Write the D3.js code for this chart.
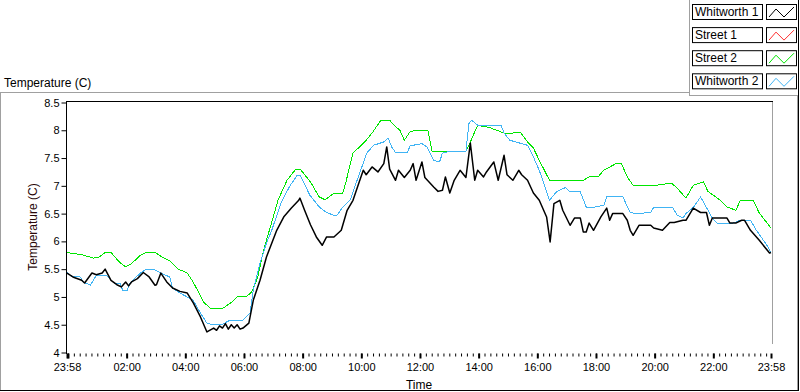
<!DOCTYPE html>
<html>
<head>
<meta charset="utf-8">
<script src="https://cdn.jsdelivr.net/npm/d3@7"></script>
<style>
  body { margin: 0; background: #fff; }
  svg { display: block; font-family: "Liberation Sans", Arial, sans-serif; }
  .tick text { font-size: 11px; fill: #000; }
  .tick line { stroke: #000; }
</style>
</head>
<body>
<div id="chart"></div>
<script>
// hours after 23:58, temperature (C)
var whitworth1 = [[0,5.43],[0.2,5.36],[0.5,5.3],[0.6,5.25],[0.85,5.43],[1.0,5.4],[1.2,5.43],[1.3,5.5],[1.5,5.3],[1.7,5.22],[1.85,5.18],[2.0,5.27],[2.1,5.2],[2.2,5.27],[2.4,5.33],[2.6,5.44],[2.8,5.36],[3.0,5.21],[3.05,5.22],[3.2,5.43],[3.4,5.27],[3.6,5.16],[3.85,5.1],[4.1,5.07],[4.31,4.89],[4.55,4.64],[4.77,4.37],[5.0,4.44],[5.1,4.4],[5.2,4.48],[5.3,4.44],[5.4,4.52],[5.5,4.42],[5.6,4.5],[5.7,4.44],[5.8,4.5],[5.9,4.42],[6.0,4.44],[6.2,4.53],[6.35,4.94],[6.58,5.3],[6.8,5.72],[7.15,6.2],[7.4,6.45],[7.65,6.6],[7.9,6.74],[7.94,6.78],[8.1,6.56],[8.3,6.3],[8.5,6.08],[8.7,5.93],[8.85,6.08],[9.1,6.08],[9.35,6.2],[9.55,6.56],[9.75,6.74],[9.95,7.05],[10.1,7.28],[10.2,7.2],[10.4,7.34],[10.6,7.25],[10.8,7.4],[10.9,7.7],[11.0,7.3],[11.2,7.1],[11.3,7.28],[11.5,7.15],[11.7,7.28],[11.8,7.4],[11.9,7.1],[12.1,7.43],[12.2,7.15],[12.5,6.98],[12.65,6.9],[12.8,6.92],[12.9,7.16],[13.05,6.87],[13.2,7.1],[13.4,7.28],[13.6,7.15],[13.75,7.77],[13.9,7.1],[14.0,7.28],[14.2,7.16],[14.3,7.25],[14.55,7.43],[14.7,7.1],[14.9,7.55],[15.0,7.2],[15.2,7.1],[15.4,7.28],[15.5,7.2],[15.7,7.1],[15.9,6.87],[16.1,6.74],[16.35,6.44],[16.47,5.99],[16.6,6.68],[16.8,6.74],[16.9,6.56],[17.15,6.29],[17.3,6.42],[17.5,6.42],[17.6,6.17],[17.7,6.17],[17.8,6.33],[17.95,6.2],[18.2,6.44],[18.4,6.6],[18.5,6.38],[18.6,6.5],[18.95,6.5],[19.1,6.38],[19.2,6.2],[19.3,6.11],[19.5,6.29],[19.9,6.29],[20.0,6.24],[20.3,6.2],[20.55,6.34],[20.7,6.34],[21.0,6.38],[21.1,6.38],[21.35,6.6],[21.6,6.52],[21.8,6.52],[21.9,6.29],[22.0,6.42],[22.5,6.42],[22.6,6.33],[22.8,6.33],[23.0,6.38],[23.1,6.38],[23.3,6.2],[23.6,6.02],[23.95,5.79],[24,5.8]];

var street1 = [];

var street2 = [[0,5.8],[0.5,5.76],[0.9,5.7],[1.1,5.72],[1.3,5.8],[1.5,5.8],[1.8,5.62],[2.0,5.54],[2.2,5.6],[2.5,5.75],[2.7,5.8],[3.0,5.8],[3.3,5.7],[3.5,5.65],[3.8,5.5],[4.1,5.43],[4.3,5.27],[4.5,5.07],[4.65,4.91],[4.9,4.79],[5.3,4.79],[5.6,4.9],[5.8,5.0],[6.1,5.0],[6.3,5.09],[6.5,5.35],[6.7,5.84],[6.9,6.2],[7.2,6.75],[7.5,7.1],[7.8,7.3],[7.95,7.3],[8.3,7.07],[8.6,6.8],[8.8,6.75],[9.1,6.87],[9.4,6.87],[9.5,7.05],[9.75,7.59],[10.15,7.79],[10.4,7.95],[10.7,8.18],[11.0,8.18],[11.15,8.09],[11.35,8.0],[11.5,7.82],[11.7,7.98],[12.0,8.0],[12.3,8.0],[12.45,7.61],[12.8,7.62],[13.2,7.62],[13.6,7.62],[13.75,7.79],[14.0,8.09],[14.4,8.05],[14.9,7.95],[15.2,7.95],[15.45,7.97],[15.7,7.79],[15.9,7.68],[16.1,7.46],[16.45,7.1],[16.8,7.1],[17.2,7.1],[17.6,7.1],[17.8,7.16],[18.1,7.16],[18.3,7.28],[18.75,7.41],[18.9,7.4],[19.1,7.16],[19.3,7.01],[19.7,7.01],[20.1,7.01],[20.6,7.05],[20.8,6.96],[21.1,6.78],[21.35,7.01],[21.7,7.07],[21.85,6.9],[22.3,6.73],[22.5,6.62],[22.8,6.56],[22.95,6.73],[23.4,6.73],[23.6,6.51],[24,6.24]];

var whitworth2 = [[0,5.44],[0.2,5.36],[0.45,5.36],[0.55,5.27],[0.8,5.21],[1.0,5.39],[1.35,5.39],[1.6,5.25],[1.8,5.25],[1.9,5.12],[2.05,5.12],[2.15,5.25],[2.5,5.43],[2.7,5.5],[2.95,5.5],[3.2,5.43],[3.5,5.36],[3.6,5.16],[3.85,5.07],[4.1,5.0],[4.3,4.94],[4.55,4.71],[4.77,4.53],[4.9,4.51],[5.3,4.51],[5.55,4.58],[6.0,4.58],[6.24,4.71],[6.35,5.12],[6.58,5.61],[6.8,5.97],[6.98,6.2],[7.3,6.7],[7.6,7.0],[7.85,7.19],[7.95,7.19],[8.28,6.83],[8.6,6.62],[8.85,6.52],[9.1,6.47],[9.2,6.47],[9.41,6.62],[9.65,6.74],[9.93,7.16],[10.22,7.59],[10.45,7.73],[10.8,7.79],[10.95,7.86],[11.07,7.7],[11.2,7.6],[11.6,7.6],[11.7,7.72],[12.1,7.76],[12.27,7.7],[12.5,7.46],[12.7,7.43],[12.8,7.59],[13.05,7.62],[13.6,7.62],[13.7,8.12],[13.8,8.18],[14.0,8.09],[14.8,8.09],[14.9,7.95],[15.1,7.82],[15.3,7.79],[15.7,7.73],[15.9,7.52],[16.1,7.28],[16.45,6.74],[16.7,6.9],[17.0,6.97],[17.15,6.89],[17.5,6.89],[17.7,6.62],[17.8,6.6],[18.3,6.65],[18.4,6.8],[18.95,6.8],[19.2,6.52],[19.4,6.5],[19.9,6.52],[20.0,6.61],[20.65,6.61],[20.8,6.47],[21.0,6.42],[21.1,6.5],[21.35,6.61],[21.6,6.8],[21.8,6.61],[22.0,6.42],[22.15,6.33],[22.7,6.33],[22.95,6.38],[23.3,6.38],[23.5,6.2],[23.9,5.9],[24,5.79]];

var seriesNames = ['Whitworth 1', 'Street 1', 'Street 2', 'Whitworth 2'];
var seriesColors = ['#000000', '#ff3030', '#00e600', '#40b4f4'];
var yTicks = [4, 4.5, 5, 5.5, 6, 6.5, 7, 7.5, 8, 8.5];

var width = 800;
var height = 392;
var plotLeft = 66, plotRight = 772, plotTop = 101, plotBottom = 353;

var start = new Date(2015, 0, 1, 23, 58);
var end = new Date(2015, 0, 2, 23, 58);
function toDate(h) {
  return new Date(start.getTime() + h * 3600000);
}

var svg = d3.select('#chart').append('svg')
  .attr('width', width)
  .attr('height', height);

svg.append('rect').attr('width', width).attr('height', height).attr('fill', '#fff');

// outer panel frame
svg.append('line').attr('x1', 0.5).attr('x2', 0.5).attr('y1', 92).attr('y2', 391).attr('stroke', '#a0a0a0');
svg.append('line').attr('x1', 0).attr('x2', 689).attr('y1', 92.5).attr('y2', 92.5).attr('stroke', '#a0a0a0');
svg.append('line').attr('x1', 689.5).attr('x2', 689.5).attr('y1', 0).attr('y2', 95).attr('stroke', '#a0a0a0');
svg.append('line').attr('x1', 689).attr('x2', 798).attr('y1', 95.5).attr('y2', 95.5).attr('stroke', '#a0a0a0');
svg.append('line').attr('x1', 797.5).attr('x2', 797.5).attr('y1', 95).attr('y2', 390).attr('stroke', '#a0a0a0');
svg.append('line').attr('x1', 798.5).attr('x2', 798.5).attr('y1', 0).attr('y2', 391).attr('stroke', '#000');
svg.append('line').attr('x1', 0).attr('x2', 799).attr('y1', 390.5).attr('y2', 390.5).attr('stroke', '#000');

svg.append('text')
  .attr('x', 4)
  .attr('y', 87)
  .style('font-size', '12px')
  .text('Temperature (C)');

// scales
var xScale = d3.scaleTime()
  .domain([start, end])
  .range([plotLeft + 1, plotRight - 1]);

var yScale = d3.scaleLinear()
  .domain([4, 8.5])
  .range([plotBottom - 0.5, plotTop + 1.5]);

// plot frame
svg.append('line').attr('x1', plotRight + 0.5).attr('x2', plotRight + 0.5).attr('y1', plotTop).attr('y2', 344).attr('stroke', '#a0a0a0');
svg.append('line').attr('x1', plotLeft).attr('x2', plotRight + 1).attr('y1', plotTop + 0.5).attr('y2', plotTop + 0.5).attr('stroke', '#000');

// axes
var yAxis = d3.axisLeft(yScale)
  .tickValues(yTicks)
  .tickSize(5)
  .tickPadding(2)
  .tickFormat(d3.format(''));

svg.append('g')
  .attr('transform', 'translate(' + (plotLeft + 0.5) + ',0)')
  .call(yAxis)
  .call(function(g) { g.select('.domain').remove(); });

svg.append('line')
  .attr('x1', plotLeft + 0.5).attr('x2', plotLeft + 0.5)
  .attr('y1', plotTop).attr('y2', plotBottom + 1)
  .attr('stroke', '#000');

var minorAxis = d3.axisBottom(xScale)
  .ticks(d3.timeMinute.every(12))
  .tickSize(3)
  .tickFormat('');

svg.append('g')
  .attr('transform', 'translate(0,' + (plotBottom + 0.5) + ')')
  .call(minorAxis)
  .call(function(g) { g.select('.domain').remove(); });

var majorTicks = d3.timeHour.every(2).range(start, end).concat([start, end]);
var majorAxis = d3.axisBottom(xScale)
  .tickValues(majorTicks)
  .tickSize(5)
  .tickFormat('');

svg.append('g')
  .attr('transform', 'translate(0,' + (plotBottom + 0.5) + ')')
  .call(majorAxis)
  .call(function(g) { g.select('.domain').remove(); })
  .selectAll('.tick line').attr('stroke-width', 2);

var labelTicks = d3.timeHour.every(2).range(toDate(1), end);
labelTicks = [start].concat(labelTicks).concat([end]);
var labelAxis = d3.axisBottom(xScale)
  .tickValues(labelTicks)
  .tickSize(0)
  .tickPadding(10)
  .tickFormat(d3.timeFormat('%H:%M'));

svg.append('g')
  .attr('transform', 'translate(0,' + (plotBottom + 0.5) + ')')
  .call(labelAxis)
  .call(function(g) { g.select('.domain').remove(); });

svg.append('text')
  .attr('x', (plotLeft + plotRight) / 2)
  .attr('y', 389)
  .attr('text-anchor', 'middle')
  .style('font-size', '12px')
  .text('Time');

svg.append('text')
  .attr('transform', 'translate(37,' + ((plotTop + plotBottom) / 2) + ') rotate(-90)')
  .attr('text-anchor', 'middle')
  .style('font-size', '12px')
  .style('fill', '#2a0808')
  .text('Temperature (C)');

// lines
var line = d3.line()
  .x(function(d) { return xScale(toDate(d[0])); })
  .y(function(d) { return yScale(d[1]); });

var seriesData = [whitworth1, street1, street2, whitworth2];
var drawOrder = [2, 3, 1, 0];

drawOrder.forEach(function(i) {
  if (seriesData[i].length === 0) return;
  svg.append('path')
    .datum(seriesData[i])
    .attr('d', line)
    .attr('fill', 'none')
    .attr('stroke', seriesColors[i])
    .attr('stroke-width', i === 0 ? 1.5 : 1)
    .attr('shape-rendering', i === 0 ? 'auto' : 'crispEdges')
    .attr('stroke-linejoin', 'round');
});

// legend
var legend = svg.append('g')
  .selectAll('g')
  .data(seriesNames)
  .enter()
  .append('g')
  .attr('transform', function(d, i) {
    return 'translate(692,' + (4 + i * 23.1) + ')';
  });

legend.append('rect')
  .attr('x', 0.5).attr('y', 0.5)
  .attr('width', 70).attr('height', 15)
  .attr('fill', '#fff').attr('stroke', '#000');

legend.append('text')
  .attr('x', 3)
  .attr('y', 12)
  .style('font-size', '12px')
  .text(function(d) { return d; });

legend.append('rect')
  .attr('x', 74.5).attr('y', 0.5)
  .attr('width', 30).attr('height', 15)
  .attr('fill', '#fff').attr('stroke', '#000');

legend.append('path')
  .attr('d', 'M77,13L84,5L92,13L102,3')
  .attr('fill', 'none')
  .attr('stroke', function(d, i) { return seriesColors[i]; });
</script>
</body>
</html>
